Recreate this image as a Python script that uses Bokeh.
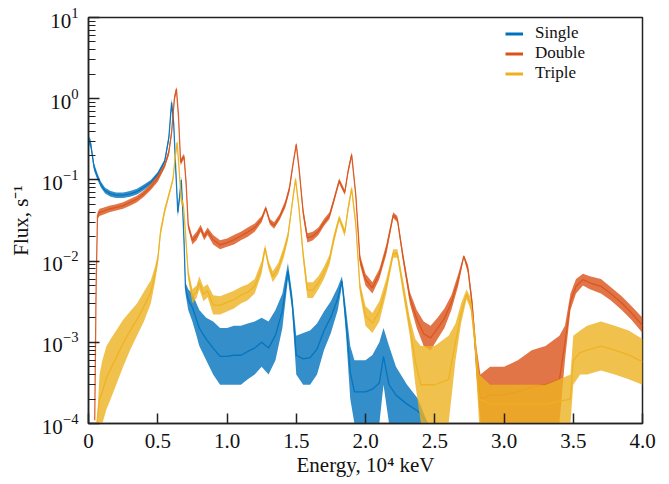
import numpy as np
from bokeh.plotting import figure
from bokeh.models import Legend, LegendItem, FixedTicker, LogTicker
from bokeh.embed import file_html
from bokeh.resources import INLINE

FLOOR = 1e-4

# Energy in units of 10^4 keV; each series given as (x, lower envelope, upper envelope) of the noisy flux
single_x = [0.0, 0.015, 0.04, 0.065, 0.09, 0.12, 0.16, 0.2, 0.25, 0.3, 0.35, 0.4, 0.45, 0.5, 0.55, 0.58, 0.6,
            0.615, 0.63, 0.645, 0.66, 0.67, 0.68, 0.69, 0.70, 0.72, 0.75, 0.78, 0.8, 0.85, 0.9, 0.95, 1.0, 1.05,
            1.1, 1.15, 1.2, 1.25, 1.3, 1.35, 1.4, 1.44, 1.47, 1.5, 1.55, 1.6, 1.65, 1.7, 1.75, 1.8, 1.83, 1.86,
            1.89, 1.92, 2.0, 2.05, 2.1, 2.13, 2.17, 2.22, 2.3, 2.38, 2.45]
single_lo = [0.28, 0.25, 0.13, 0.1, 0.08, 0.068, 0.062, 0.06, 0.06, 0.062, 0.066, 0.075, 0.088, 0.11, 0.16, 0.3, 0.8,
             0.45, 0.12, 0.035, 0.06, 0.09, 0.04, 0.015, 0.004, 0.0025, 0.0018, 0.0012, 0.0009, 0.0006, 0.0004,
             0.0003, 0.0003, 0.0003, 0.0003, 0.00035, 0.0004, 0.0005, 0.0004, 0.0006, 0.0015, 0.006, 0.0025,
             0.0004, 0.0003, 0.0003, 0.0004, 0.0008, 0.0013, 0.0025, 0.005, 0.0012, 0.0002, 1e-4, 1e-4, 1e-4,
             1e-4, 0.0003, 1e-4, 1e-4, 1e-4, 1e-4, 1e-4]
single_hi = [0.35, 0.32, 0.16, 0.12, 0.095, 0.08, 0.073, 0.07, 0.07, 0.073, 0.078, 0.088, 0.1, 0.125, 0.18, 0.36, 1.0,
             0.55, 0.15, 0.045, 0.075, 0.11, 0.05, 0.02, 0.0055, 0.0045, 0.004, 0.003, 0.0025, 0.002, 0.0018,
             0.0015, 0.0015, 0.0016, 0.0016, 0.0017, 0.0018, 0.002, 0.0018, 0.0025, 0.004, 0.0095, 0.004,
             0.0012, 0.0013, 0.0014, 0.0017, 0.0024, 0.0032, 0.0048, 0.0065, 0.0025, 0.0009, 0.0006, 0.0006,
             0.0007, 0.001, 0.0015, 0.0009, 0.0005, 0.0003, 0.0002, 1e-4]

double_x = [0.045, 0.055, 0.065, 0.08, 0.1, 0.15, 0.2, 0.25, 0.3, 0.35, 0.4, 0.45, 0.5, 0.55, 0.58, 0.6, 0.62,
            0.635, 0.65, 0.665, 0.68, 0.69, 0.705, 0.72, 0.75, 0.78, 0.81, 0.835, 0.86, 0.9, 0.95, 1.0, 1.05,
            1.1, 1.15, 1.2, 1.25, 1.28, 1.31, 1.34, 1.38, 1.42, 1.45, 1.475, 1.5, 1.52, 1.55, 1.58, 1.62, 1.66,
            1.7, 1.74, 1.77, 1.81, 1.85, 1.875, 1.9, 1.93, 1.96, 2.0, 2.05, 2.1, 2.15, 2.2, 2.23, 2.27, 2.32,
            2.37, 2.42, 2.47, 2.52, 2.57, 2.62, 2.67, 2.71, 2.74, 2.77, 2.8, 2.83, 2.9, 3.0, 3.1, 3.2, 3.3, 3.4,
            3.44, 3.48, 3.52, 3.57, 3.62, 3.7, 3.77, 3.85, 3.92, 4.0]
double_lo = [1e-4, 0.004, 0.033, 0.036, 0.037, 0.04, 0.042, 0.044, 0.048, 0.053, 0.062, 0.075, 0.095, 0.14, 0.2,
             0.35, 0.9, 1.25, 0.55, 0.15, 0.17, 0.18, 0.08, 0.025, 0.016, 0.018, 0.023, 0.018, 0.021, 0.016,
             0.014, 0.015, 0.016, 0.018, 0.02, 0.023, 0.03, 0.042, 0.028, 0.025, 0.032, 0.045, 0.07, 0.14, 0.26,
             0.13, 0.035, 0.017, 0.018, 0.021, 0.027, 0.033, 0.05, 0.09, 0.065, 0.12, 0.19, 0.06, 0.009, 0.005,
             0.004, 0.006, 0.012, 0.034, 0.03, 0.01, 0.003, 0.0015, 0.0009, 0.0008, 0.0011, 0.0015, 0.0025,
             0.005, 0.011, 0.007, 0.0025, 0.0004, 1e-4, 1e-4, 1e-4, 1e-4, 1e-4, 1e-4, 1e-4, 0.0006, 0.0025,
             0.004, 0.005, 0.0045, 0.004, 0.0033, 0.0025, 0.0019, 0.0013]
double_hi = [1.2e-4, 0.006, 0.04, 0.044, 0.045, 0.048, 0.05, 0.053, 0.058, 0.064, 0.074, 0.09, 0.115, 0.16, 0.24,
             0.42, 1.1, 1.4, 0.65, 0.18, 0.2, 0.21, 0.1, 0.03, 0.02, 0.023, 0.028, 0.022, 0.026, 0.021, 0.018,
             0.019, 0.021, 0.023, 0.026, 0.029, 0.036, 0.048, 0.033, 0.03, 0.038, 0.055, 0.085, 0.16, 0.29,
             0.15, 0.045, 0.022, 0.023, 0.026, 0.033, 0.04, 0.06, 0.105, 0.075, 0.14, 0.22, 0.07, 0.012, 0.007,
             0.0055, 0.008, 0.016, 0.04, 0.036, 0.013, 0.0042, 0.0025, 0.0018, 0.0016, 0.002, 0.0026, 0.0038,
             0.007, 0.012, 0.009, 0.0035, 0.0009, 0.0004, 0.0005, 0.0005, 0.0006, 0.0008, 0.0009, 0.0012,
             0.0016, 0.004, 0.006, 0.007, 0.0065, 0.006, 0.0048, 0.0037, 0.0028, 0.002]

triple_x = [0.06, 0.08, 0.1, 0.13, 0.16, 0.2, 0.25, 0.3, 0.35, 0.4, 0.45, 0.48, 0.5, 0.52, 0.55, 0.58, 0.61, 0.625,
            0.64, 0.655, 0.67, 0.685, 0.7, 0.72, 0.75, 0.78, 0.8, 0.83, 0.86, 0.9, 0.95, 1.0, 1.05, 1.1, 1.15,
            1.2, 1.25, 1.275, 1.3, 1.33, 1.37, 1.41, 1.44, 1.47, 1.495, 1.52, 1.55, 1.58, 1.62, 1.66, 1.7, 1.74,
            1.77, 1.81, 1.85, 1.875, 1.9, 1.93, 1.96, 2.0, 2.05, 2.1, 2.15, 2.2, 2.23, 2.27, 2.32, 2.36, 2.4,
            2.5, 2.6, 2.65, 2.69, 2.73, 2.76, 2.79, 2.82, 2.9, 3.0, 3.1, 3.2, 3.3, 3.4, 3.48, 3.5, 3.55, 3.6,
            3.7, 3.8, 3.9, 4.0]
triple_lo = [1e-4, 1e-4, 1e-4, 0.00015, 0.0002, 0.0003, 0.0005, 0.0008, 0.0012, 0.0018, 0.003, 0.0055, 0.009,
             0.02, 0.038, 0.06, 0.095, 0.17, 0.27, 0.12, 0.05, 0.045, 0.02, 0.006, 0.003, 0.0035, 0.0045,
             0.0032, 0.0036, 0.0022, 0.0022, 0.0024, 0.0026, 0.003, 0.0033, 0.004, 0.007, 0.013, 0.008, 0.0055,
             0.007, 0.011, 0.018, 0.045, 0.095, 0.04, 0.01, 0.0035, 0.0035, 0.0045, 0.006, 0.009, 0.016, 0.031,
             0.02, 0.04, 0.072, 0.025, 0.004, 0.0016, 0.0013, 0.0018, 0.004, 0.011, 0.011, 0.004, 0.0012,
             0.0003, 1e-4, 1e-4, 1e-4, 0.0006, 0.0017, 0.0034, 0.0025, 0.0008, 1e-4, 1e-4, 1e-4, 1e-4, 1e-4,
             1e-4, 1e-4, 1e-4, 0.0003, 0.0004, 0.0004, 0.00045, 0.0004, 0.00035, 0.0003]
triple_hi = [1e-4, 0.0004, 0.0006, 0.0009, 0.0011, 0.0014, 0.0019, 0.0024, 0.003, 0.0042, 0.0058, 0.0085, 0.012,
             0.026, 0.046, 0.07, 0.11, 0.2, 0.31, 0.14, 0.06, 0.055, 0.025, 0.008, 0.0045, 0.005, 0.0065, 0.0048,
             0.0052, 0.0038, 0.0037, 0.004, 0.0043, 0.0048, 0.0052, 0.006, 0.01, 0.016, 0.01, 0.0075, 0.0095,
             0.015, 0.023, 0.055, 0.11, 0.05, 0.014, 0.0055, 0.0055, 0.0065, 0.0085, 0.012, 0.021, 0.037, 0.025,
             0.05, 0.085, 0.032, 0.0055, 0.0028, 0.0023, 0.0032, 0.006, 0.014, 0.014, 0.006, 0.002, 0.0011,
             0.0009, 0.0009, 0.0012, 0.0017, 0.003, 0.0045, 0.0035, 0.0014, 0.0004, 0.0003, 0.0003, 0.0003,
             0.0003, 0.0003, 0.00035, 0.0004, 0.0012, 0.0014, 0.0016, 0.0018, 0.0016, 0.0014, 0.0011]

series_names = ["Single", "Double", "Triple"]
series_colors = ["#0072BD", "#D95319", "#EDB120"]
x_ticks = [0, 0.5, 1.0, 1.5, 2.0, 2.5, 3.0, 3.5, 4.0]
x_tick_labels = ["0", "0.5", "1.0", "1.5", "2.0", "2.5", "3.0", "3.5", "4.0"]

FONT = "Liberation Serif"

p = figure(width=669, height=484, x_range=(0, 4), y_range=(FLOOR, 10), y_axis_type="log",
           output_backend="svg", toolbar_location=None,
           min_border_left=88, min_border_right=27, min_border_top=17, min_border_bottom=61)
p.background_fill_color = "white"
p.border_fill_color = "white"
p.outline_line_color = "#222222"
p.outline_line_width = 1.5
p.grid.visible = False

data = [(single_x, single_lo, single_hi), (double_x, double_lo, double_hi), (triple_x, triple_lo, triple_hi)]
items = []
for (xs, lo, hi), name, col in zip(data, series_names, series_colors):
    lo_a = np.array(lo, dtype=float)
    hi_a = np.array(hi, dtype=float)
    p.varea(x=xs, y1=np.maximum(lo_a, FLOOR * 0.999), y2=np.maximum(hi_a, FLOOR), fill_color=col, fill_alpha=0.8)
    mid = np.sqrt(lo_a * hi_a)
    p.line(x=xs, y=mid, line_color=col, line_width=1.3, line_alpha=0.9)
    # legend sample line, placed outside the visible x range
    dummy = p.line(x=[-2.0, -1.0], y=[1.0, 1.0], line_color=col, line_width=3)
    items.append(LegendItem(label=name, renderers=[dummy]))

legend = Legend(items=items, location=(417, 340), border_line_color=None, background_fill_alpha=0,
                padding=0, spacing=0, glyph_width=18, glyph_height=19, label_height=19, label_standoff=12,
                label_text_font=FONT, label_text_font_size="17px", label_text_color="#111111", margin=0)
p.add_layout(legend)

xa = p.xaxis[0]
xa.ticker = FixedTicker(ticks=x_ticks)
xa.major_label_overrides = {t: l for t, l in zip(x_ticks, x_tick_labels)}
xa.axis_label = "Energy, 10\u2074 keV"
ya = p.yaxis[0]
ya.ticker = LogTicker(num_minor_ticks=10)
ya.axis_label = "Flux, s\u207b\u00b9"

for ax in (xa, ya):
    ax.axis_line_color = "#222222"
    ax.axis_line_width = 1.5
    ax.major_tick_line_color = "#222222"
    ax.major_tick_line_width = 1.5
    ax.minor_tick_line_color = "#222222"
    ax.minor_tick_line_width = 1.2
    ax.major_tick_out = 0
    ax.minor_tick_out = 0
    ax.major_label_text_font = FONT
    ax.major_label_text_font_size = "21px"
    ax.major_label_text_color = "#111111"
    ax.axis_label_text_font = FONT
    ax.axis_label_text_font_size = "21px"
    ax.axis_label_text_font_style = "normal"
    ax.axis_label_text_color = "#111111"

xa.major_tick_in = 10
xa.minor_tick_line_color = None
xa.major_label_standoff = 10
xa.axis_label_standoff = 2
ya.major_tick_in = 11
ya.minor_tick_in = 7
ya.major_label_standoff = 10
ya.axis_label_standoff = 6

open("out.html", "w").write(file_html(p, INLINE))
